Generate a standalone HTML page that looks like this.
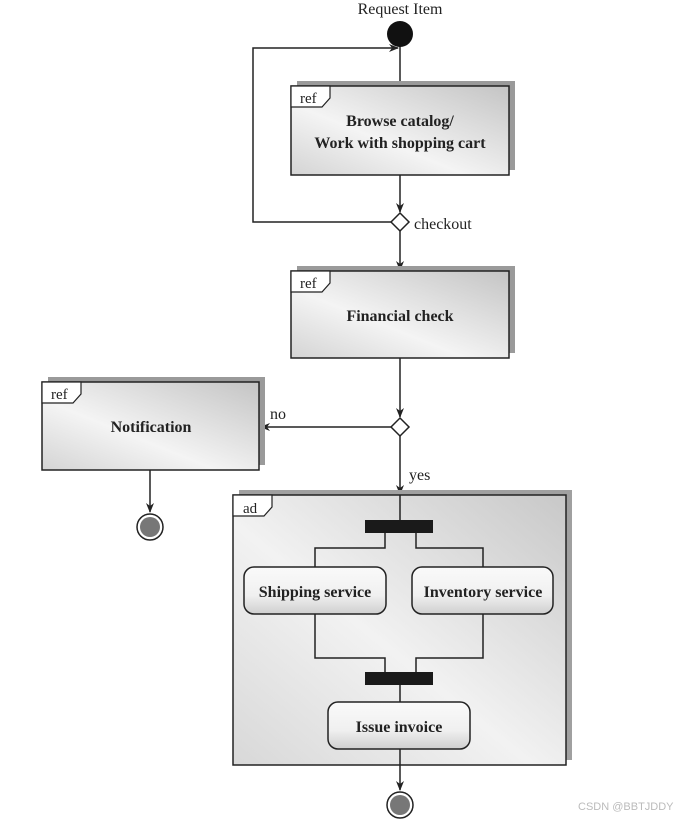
<!DOCTYPE html>
<html><head><meta charset="utf-8"><style>html,body{margin:0;padding:0;background:#fff}svg{display:block}</style></head>
<body>
<svg width="679" height="820" viewBox="0 0 679 820" xmlns="http://www.w3.org/2000/svg" font-family="Liberation Serif, serif">
<defs>
<linearGradient id="g" x1="0" y1="1" x2="1" y2="0">
<stop offset="0" stop-color="#d4d4d4"/><stop offset="0.4" stop-color="#f4f4f4"/><stop offset="1" stop-color="#c4c4c4"/></linearGradient>
<linearGradient id="g2" x1="0" y1="1" x2="1" y2="0">
<stop offset="0" stop-color="#d8d8d8"/><stop offset="0.45" stop-color="#f2f2f2"/><stop offset="1" stop-color="#c8c8c8"/></linearGradient>
<linearGradient id="r" x1="0" y1="0" x2="0" y2="1">
<stop offset="0" stop-color="#fafafa"/><stop offset="0.6" stop-color="#f0f0f0"/><stop offset="1" stop-color="#cfcfcf"/></linearGradient>
<marker id="a" markerWidth="10" markerHeight="8" refX="9" refY="4" orient="auto" markerUnits="userSpaceOnUse">
<path d="M0,0 L10,4 L0,8 L3,4 Z" fill="#222"/></marker>
</defs>
<g stroke="#222" stroke-width="1.5" fill="none">
<!-- top -->
<line x1="400" y1="34" x2="400" y2="86"/>
<polyline points="392,222 253,222 253,48 398,48" marker-end="url(#a)"/>
<line x1="400" y1="175" x2="400" y2="212" marker-end="url(#a)"/>
<line x1="400" y1="231" x2="400" y2="270" marker-end="url(#a)"/>
<line x1="400" y1="358" x2="400" y2="417" marker-end="url(#a)"/>
<line x1="391" y1="427" x2="261" y2="427" marker-end="url(#a)"/>
<line x1="150" y1="470" x2="150" y2="512" marker-end="url(#a)"/>
<line x1="400" y1="436" x2="400" y2="494" marker-end="url(#a)"/>
</g>
<!-- shadows -->
<rect x="297" y="81" width="218" height="89" fill="#9a9a9a"/>
<rect x="297" y="266" width="218" height="87" fill="#9a9a9a"/>
<rect x="48" y="377" width="217" height="88" fill="#9a9a9a"/>
<rect x="239" y="490" width="333" height="270" fill="#a0a0a0"/>
<!-- boxes -->
<rect x="291" y="86" width="218" height="89" fill="url(#g)" stroke="#222" stroke-width="1.5"/>
<rect x="291" y="271" width="218" height="87" fill="url(#g)" stroke="#222" stroke-width="1.5"/>
<rect x="42" y="382" width="217" height="88" fill="url(#g)" stroke="#222" stroke-width="1.5"/>
<rect x="233" y="495" width="333" height="270" fill="url(#g2)" stroke="#222" stroke-width="1.5"/>
<!-- tabs -->
<g fill="#fff" stroke="#222" stroke-width="1.2">
<path d="M291,86 H330 V98 L322,107 H291 Z"/>
<path d="M291,271 H330 V283 L322,292 H291 Z"/>
<path d="M42,382 H81 V394 L73,403 H42 Z"/>
<path d="M233,495 H272 V507 L264,516 H233 Z"/>
</g>
<g font-size="15" fill="#222">
<text x="300" y="103">ref</text>
<text x="300" y="288">ref</text>
<text x="51" y="399">ref</text>
<text x="243" y="513">ad</text>
</g>
<g font-size="16" font-weight="bold" fill="#222" text-anchor="middle">
<text x="400" y="126">Browse catalog/</text>
<text x="400" y="148">Work with shopping cart</text>
<text x="400" y="321">Financial check</text>
<text x="151" y="432">Notification</text>
</g>
<!-- nodes -->
<circle cx="400" cy="34" r="13" fill="#111"/>
<path d="M400,213 L409,222 L400,231 L391,222 Z" fill="#fff" stroke="#222" stroke-width="1.5"/>
<path d="M400,418 L409,427 L400,436 L391,427 Z" fill="#fff" stroke="#222" stroke-width="1.5"/>
<circle cx="150" cy="527" r="13" fill="#fff" stroke="#222" stroke-width="1.5"/>
<circle cx="150" cy="527" r="10" fill="#777"/>
<g font-size="16" fill="#222">
<text x="400" y="14" text-anchor="middle">Request Item</text>
<text x="414" y="229">checkout</text>
<text x="270" y="419">no</text>
<text x="409" y="480">yes</text>
</g>
<!-- ad content -->
<g stroke="#222" stroke-width="1.5" fill="none">
<line x1="400" y1="495" x2="400" y2="520"/>
<polyline points="385,533 385,548 315,548 315,567"/>
<polyline points="416,533 416,548 483,548 483,567"/>
<polyline points="315,614 315,658 385,658 385,672"/>
<polyline points="483,614 483,658 416,658 416,672"/>
<line x1="400" y1="685" x2="400" y2="702"/>
<line x1="400" y1="765" x2="400" y2="790" marker-end="url(#a)"/>
<line x1="400" y1="749" x2="400" y2="765"/>
</g>
<rect x="365" y="520" width="68" height="13" fill="#1a1a1a"/>
<rect x="365" y="672" width="68" height="13" fill="#1a1a1a"/>
<g fill="url(#r)" stroke="#222" stroke-width="1.5">
<rect x="244" y="567" width="142" height="47" rx="10"/>
<rect x="412" y="567" width="141" height="47" rx="10"/>
<rect x="328" y="702" width="142" height="47" rx="10"/>
</g>
<g font-size="16" font-weight="bold" fill="#222" text-anchor="middle">
<text x="315" y="597">Shipping service</text>
<text x="483" y="597">Inventory service</text>
<text x="399" y="732">Issue invoice</text>
</g>
<circle cx="400" cy="805" r="13" fill="#fff" stroke="#222" stroke-width="1.5"/>
<circle cx="400" cy="805" r="10" fill="#777"/>
<text x="578" y="810" font-family="Liberation Sans, sans-serif" font-size="11" fill="#bbb">CSDN @BBTJDDY</text>
</svg>
</body></html>
